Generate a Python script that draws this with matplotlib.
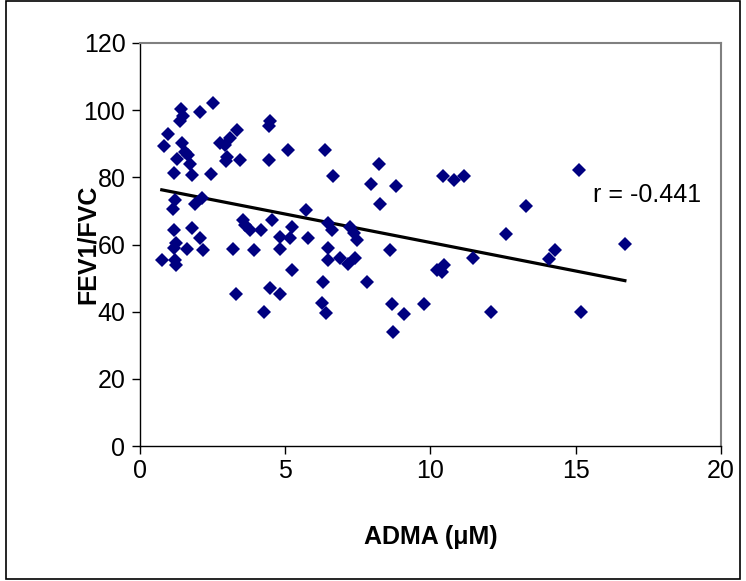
import numpy as np
import matplotlib
matplotlib.use("Agg")
import matplotlib.pyplot as plt
from matplotlib.patches import Rectangle

plt.rcParams['font.family'] = ['Liberation Sans', 'DejaVu Sans']

adma = [2.51, 1.40, 2.07, 1.49, 1.38, 0.98, 0.83, 1.44, 1.55, 1.67,
        1.26, 1.72, 1.17, 1.80, 2.44, 3.33, 3.10, 2.76, 2.93, 3.01,
        2.97, 3.45, 1.21, 1.15, 1.90, 2.13, 3.56, 3.62, 1.17, 1.80,
        2.07, 1.24, 1.18, 1.61, 2.16, 3.20, 0.75, 1.21, 1.24,
        3.79, 4.16, 4.56, 5.23, 4.83, 5.17, 4.83, 3.94, 5.23, 3.31,
        4.48, 4.83, 4.28, 4.48, 4.43, 5.11, 4.43, 6.36, 8.22, 6.64,
        7.95, 8.83, 10.44, 10.83, 11.17, 8.28, 5.72, 5.80, 6.49, 6.61,
        7.22, 7.36, 7.47, 8.62, 6.49, 6.49, 6.90, 7.18, 7.41, 6.29,
        7.82, 6.26, 6.41, 8.68, 9.10, 9.79, 8.71, 10.23, 10.46, 10.40,
        15.11, 13.31, 12.62, 14.29, 14.08, 16.70, 11.46, 12.09, 15.20]
fev1_fvc = [102.2, 100.3, 99.5, 98.3, 96.7, 92.8, 89.3, 90.3, 87.6, 86.6,
            85.4, 84.1, 81.2, 80.7, 81.0, 94.2, 91.6, 90.1, 89.6, 86.1,
            84.8, 85.1, 73.2, 70.7, 72.2, 73.7, 67.3, 65.8, 64.3, 65.0,
            62.0, 60.5, 59.0, 58.8, 58.3, 58.8, 55.5, 55.3, 53.9,
            64.3, 64.3, 67.3, 65.1, 62.1, 61.8, 58.8, 58.3, 52.4, 45.2,
            46.9, 45.2, 40.0, 96.8, 95.2, 88.1, 85.1, 88.1, 83.9, 80.4,
            78.0, 77.4, 80.4, 79.2, 80.4, 72.0, 70.4, 61.8, 66.3, 64.3,
            65.3, 63.3, 61.3, 58.3, 59.1, 55.4, 55.9, 54.2, 55.9, 48.9,
            48.9, 42.7, 39.7, 42.3, 39.3, 42.3, 34.0, 52.4, 53.9, 51.9,
            82.1, 71.4, 63.1, 58.5, 55.6, 60.1, 55.9, 39.8, 39.8]

x_ticks = [0, 5, 10, 15, 20]
y_ticks = [0, 20, 40, 60, 80, 100, 120]
r_label = "r = -0.441"

fig = plt.figure(figsize=(7.46, 5.81), dpi=100)
ax = fig.add_axes([140/746, 1 - 446/581, 580.7/746, 403/581])

x = np.array(adma)
y = np.array(fev1_fvc)
ax.plot(x, y, linestyle='none', marker='D', markersize=6.8,
        color='#000080', markeredgewidth=0, zorder=3)

slope, intercept = np.polyfit(x, y, 1)
xl = np.array([x.min(), x.max()])
ax.plot(xl, intercept + slope * xl, color='black', linewidth=2.3, zorder=2)

ax.set_xlim(0, 20)
ax.set_ylim(0, 120)
ax.set_xticks(x_ticks)
ax.set_yticks(y_ticks)
ax.tick_params(axis='both', direction='out', length=5.5, width=1,
               labelsize=18, colors='black')
ax.tick_params(axis='y', pad=5)
ax.tick_params(axis='x', pad=4)

for s in ['left', 'bottom']:
    ax.spines[s].set_color('black')
    ax.spines[s].set_linewidth(1)
for s in ['top', 'right']:
    ax.spines[s].set_color('#808080')
    ax.spines[s].set_linewidth(1.5)

ax.set_xlabel('ADMA (μM)', fontsize=18, fontweight='bold')
ax.set_ylabel('FEV1/FVC', fontsize=18, fontweight='bold')
ax.xaxis.set_label_coords(0.5, -0.195)
ax.yaxis.set_label_coords(-0.069, 0.5)

ax.text(15.6, 74.7, r_label, fontsize=18, ha='left', va='center')

fig.patches.append(Rectangle((6/746, 1 - 579/581), 734/746, 578/581,
                             transform=fig.transFigure, fill=False,
                             edgecolor='black', linewidth=1.2))

fig.savefig('out.png', dpi=100)
